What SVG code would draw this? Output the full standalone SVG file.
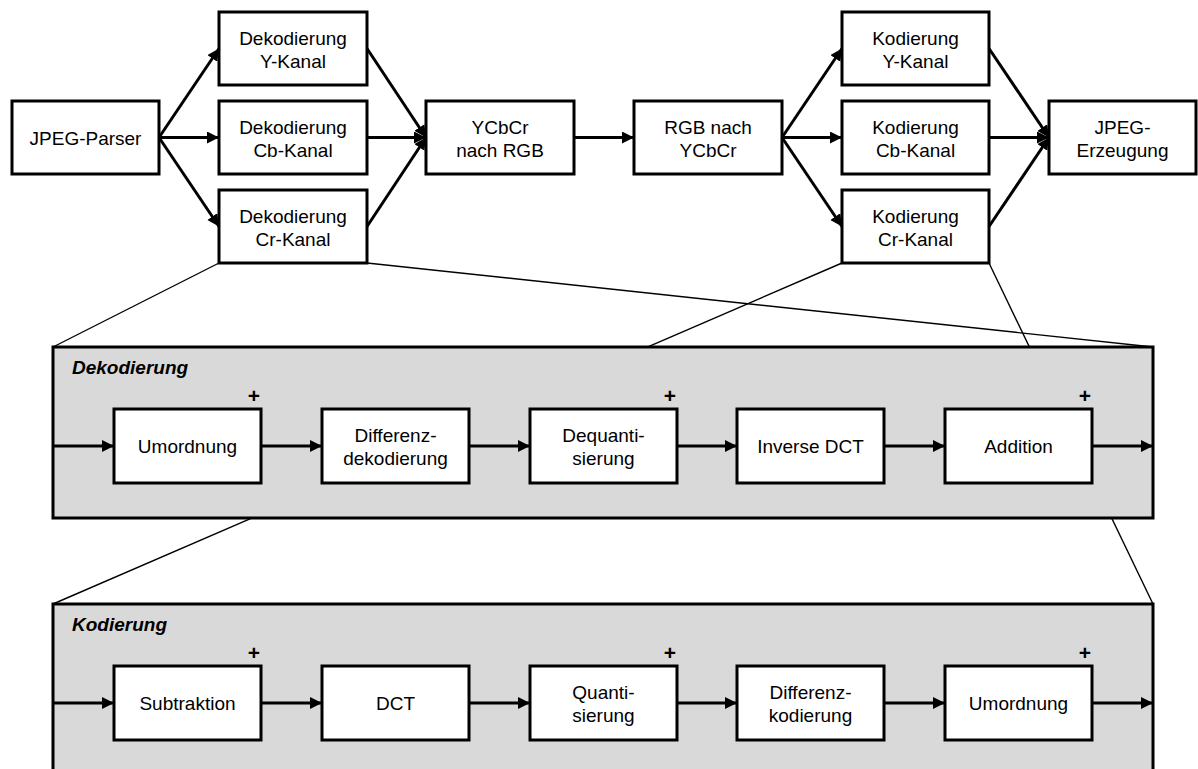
<svg xmlns="http://www.w3.org/2000/svg" width="1198" height="769" viewBox="0 0 1198 769">
  <style>
    .box { fill: #ffffff; stroke: #000000; stroke-width: 3; }
    .panel { fill: #d9d9d9; stroke: #000000; stroke-width: 3; }
    .lbl { font-family: "Liberation Sans", Arial, sans-serif; font-size: 19px; fill: #000000; text-anchor: middle; }
    .title { font-family: "Liberation Sans", Arial, sans-serif; font-size: 19px; font-weight: bold; font-style: italic; fill: #000000; }
    .plus { font-family: "Liberation Sans", Arial, sans-serif; font-size: 21px; font-weight: bold; fill: #000000; text-anchor: middle; }
    .arrow { fill: none; stroke: #000000; stroke-width: 3; marker-end: url(#head); }
    .zoom { fill: none; stroke: #000000; stroke-width: 1.4; }
  </style>
  <defs>
    <marker id="head" markerUnits="userSpaceOnUse" markerWidth="13" markerHeight="13" refX="12" refY="6" orient="auto">
      <path d="M0,0 L12,6 L0,12 z" fill="#000000"/>
    </marker>
  </defs>

  <rect width="1198" height="769" fill="#ffffff"/>

  <!-- detail lines from the Cr channel blocks down to the expanded panels -->
  <g id="zoom-lines">
    <line class="zoom" x1="219" y1="263" x2="53" y2="347"/>
    <line class="zoom" x1="367" y1="263" x2="1153" y2="347"/>
    <line class="zoom" x1="842" y1="263" x2="53" y2="604"/>
    <line class="zoom" x1="989" y1="263" x2="1153" y2="604"/>
  </g>

  <!-- expanded decoding chain -->
  <g id="panel-dekodierung">
    <rect class="panel" x="53" y="347" width="1100" height="171"/>
    <text class="title" x="72" y="374">Dekodierung</text>
  </g>

  <!-- expanded encoding chain -->
  <g id="panel-kodierung">
    <rect class="panel" x="53" y="604" width="1100" height="200"/>
    <text class="title" x="72" y="631">Kodierung</text>
  </g>

  <!-- top row -->
  <g id="jpeg-parser">
    <rect class="box" x="12" y="101" width="147" height="73"/>
    <text class="lbl" x="85.5" y="144.5">JPEG-Parser</text>
  </g>
  <g id="dek-y">
    <rect class="box" x="219" y="12" width="148" height="73"/>
    <text class="lbl" x="293" y="45">Dekodierung</text>
    <text class="lbl" x="293" y="68">Y-Kanal</text>
  </g>
  <g id="dek-cb">
    <rect class="box" x="219" y="101" width="148" height="73"/>
    <text class="lbl" x="293" y="134">Dekodierung</text>
    <text class="lbl" x="293" y="157">Cb-Kanal</text>
  </g>
  <g id="dek-cr">
    <rect class="box" x="219" y="190" width="148" height="73"/>
    <text class="lbl" x="293" y="223">Dekodierung</text>
    <text class="lbl" x="293" y="246">Cr-Kanal</text>
  </g>
  <g id="ycbcr-rgb">
    <rect class="box" x="426" y="101" width="148" height="73"/>
    <text class="lbl" x="500" y="134">YCbCr</text>
    <text class="lbl" x="500" y="157">nach RGB</text>
  </g>
  <g id="rgb-ycbcr">
    <rect class="box" x="634" y="101" width="148" height="73"/>
    <text class="lbl" x="708" y="134">RGB nach</text>
    <text class="lbl" x="708" y="157">YCbCr</text>
  </g>
  <g id="kod-y">
    <rect class="box" x="842" y="12" width="147" height="73"/>
    <text class="lbl" x="915.5" y="45">Kodierung</text>
    <text class="lbl" x="915.5" y="68">Y-Kanal</text>
  </g>
  <g id="kod-cb">
    <rect class="box" x="842" y="101" width="147" height="73"/>
    <text class="lbl" x="915.5" y="134">Kodierung</text>
    <text class="lbl" x="915.5" y="157">Cb-Kanal</text>
  </g>
  <g id="kod-cr">
    <rect class="box" x="842" y="190" width="147" height="73"/>
    <text class="lbl" x="915.5" y="223">Kodierung</text>
    <text class="lbl" x="915.5" y="246">Cr-Kanal</text>
  </g>
  <g id="jpeg-erzeugung">
    <rect class="box" x="1049" y="101" width="147" height="73"/>
    <text class="lbl" x="1122.5" y="134">JPEG-</text>
    <text class="lbl" x="1122.5" y="157">Erzeugung</text>
  </g>

  <!-- decoding steps -->
  <g id="d-umordnung">
    <rect class="box" x="114" y="409" width="147" height="74"/>
    <text class="lbl" x="187.5" y="453">Umordnung</text>
    <text class="plus" x="254" y="403">+</text>
  </g>
  <g id="d-differenz">
    <rect class="box" x="322" y="409" width="147" height="74"/>
    <text class="lbl" x="395.5" y="442">Differenz-</text>
    <text class="lbl" x="395.5" y="465">dekodierung</text>
  </g>
  <g id="d-dequant">
    <rect class="box" x="530" y="409" width="147" height="74"/>
    <text class="lbl" x="603.5" y="442">Dequanti-</text>
    <text class="lbl" x="603.5" y="465">sierung</text>
    <text class="plus" x="670" y="403">+</text>
  </g>
  <g id="d-idct">
    <rect class="box" x="737" y="409" width="147" height="74"/>
    <text class="lbl" x="810.5" y="453">Inverse DCT</text>
  </g>
  <g id="d-addition">
    <rect class="box" x="945" y="409" width="147" height="74"/>
    <text class="lbl" x="1018.5" y="453">Addition</text>
    <text class="plus" x="1085" y="403">+</text>
  </g>

  <!-- encoding steps -->
  <g id="k-subtraktion">
    <rect class="box" x="114" y="666" width="147" height="74"/>
    <text class="lbl" x="187.5" y="710">Subtraktion</text>
    <text class="plus" x="254" y="660">+</text>
  </g>
  <g id="k-dct">
    <rect class="box" x="322" y="666" width="147" height="74"/>
    <text class="lbl" x="395.5" y="710">DCT</text>
  </g>
  <g id="k-quant">
    <rect class="box" x="530" y="666" width="147" height="74"/>
    <text class="lbl" x="603.5" y="699">Quanti-</text>
    <text class="lbl" x="603.5" y="722">sierung</text>
    <text class="plus" x="670" y="660">+</text>
  </g>
  <g id="k-differenz">
    <rect class="box" x="737" y="666" width="147" height="74"/>
    <text class="lbl" x="810.5" y="699">Differenz-</text>
    <text class="lbl" x="810.5" y="722">kodierung</text>
  </g>
  <g id="k-umordnung">
    <rect class="box" x="945" y="666" width="147" height="74"/>
    <text class="lbl" x="1018.5" y="710">Umordnung</text>
    <text class="plus" x="1085" y="660">+</text>
  </g>

  <!-- connectors -->
  <g id="connectors">
    <line class="arrow" x1="159" y1="137.5" x2="219" y2="48.5"/>
    <line class="arrow" x1="159" y1="137.5" x2="219" y2="137.5"/>
    <line class="arrow" x1="159" y1="137.5" x2="219" y2="226.5"/>
    <line class="arrow" x1="367" y1="48.5" x2="426" y2="137.5"/>
    <line class="arrow" x1="367" y1="137.5" x2="426" y2="137.5"/>
    <line class="arrow" x1="367" y1="226.5" x2="426" y2="137.5"/>
    <line class="arrow" x1="574" y1="137.5" x2="634" y2="137.5"/>
    <line class="arrow" x1="782" y1="137.5" x2="842" y2="48.5"/>
    <line class="arrow" x1="782" y1="137.5" x2="842" y2="137.5"/>
    <line class="arrow" x1="782" y1="137.5" x2="842" y2="226.5"/>
    <line class="arrow" x1="989" y1="48.5" x2="1049" y2="137.5"/>
    <line class="arrow" x1="989" y1="137.5" x2="1049" y2="137.5"/>
    <line class="arrow" x1="989" y1="226.5" x2="1049" y2="137.5"/>

    <line class="arrow" x1="53" y1="446" x2="114" y2="446"/>
    <line class="arrow" x1="261" y1="446" x2="322" y2="446"/>
    <line class="arrow" x1="469" y1="446" x2="530" y2="446"/>
    <line class="arrow" x1="677" y1="446" x2="737" y2="446"/>
    <line class="arrow" x1="884" y1="446" x2="945" y2="446"/>
    <line class="arrow" x1="1092" y1="446" x2="1153" y2="446"/>

    <line class="arrow" x1="53" y1="703" x2="114" y2="703"/>
    <line class="arrow" x1="261" y1="703" x2="322" y2="703"/>
    <line class="arrow" x1="469" y1="703" x2="530" y2="703"/>
    <line class="arrow" x1="677" y1="703" x2="737" y2="703"/>
    <line class="arrow" x1="884" y1="703" x2="945" y2="703"/>
    <line class="arrow" x1="1092" y1="703" x2="1153" y2="703"/>
  </g>
</svg>
